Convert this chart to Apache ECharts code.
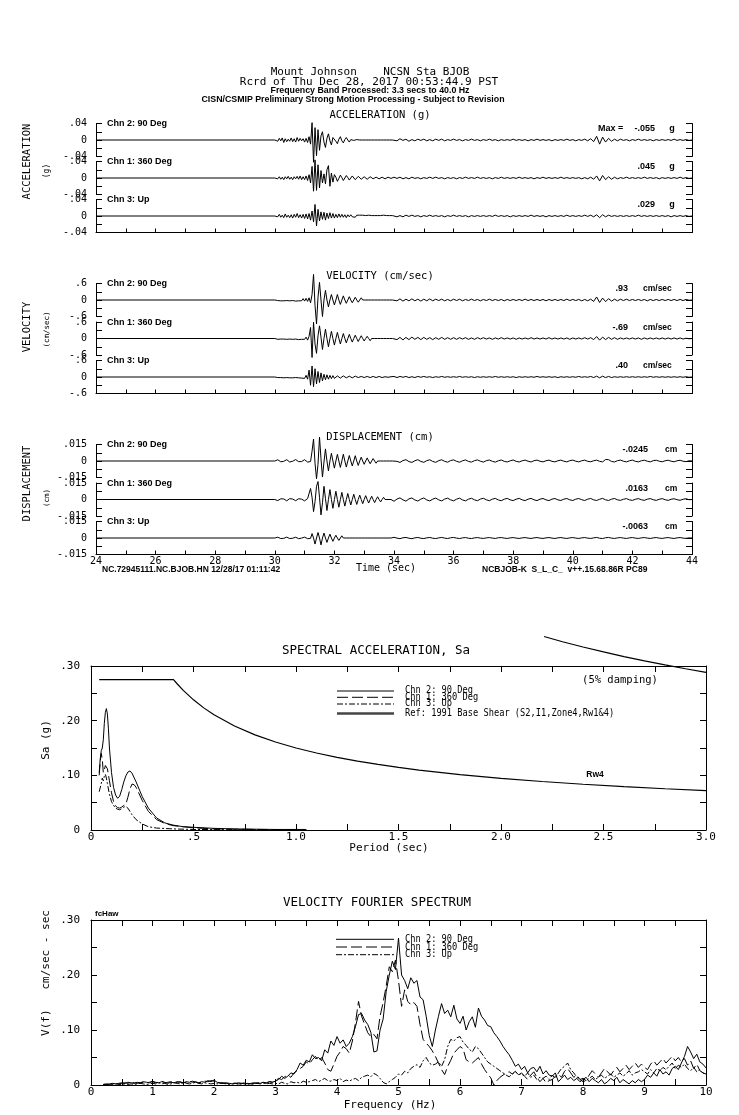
<!DOCTYPE html>
<html><head><meta charset="utf-8">
<script src="https://cdn.jsdelivr.net/npm/echarts@6/dist/echarts.min.js"></script>
<style>html,body{margin:0;padding:0;background:#fff}#c{width:739px;height:1115px}</style>
</head><body><div id="c"></div>
<script>
// ---------------- DATA ----------------
const channelNames = ['Chn 2: 90 Deg', 'Chn 1: 360 Deg', 'Chn 3: Up'];
// time series: head sampled every 0.05 s from 30.00 s, tail every 0.1 s from 34.0 s
const HEAD_T0 = 30, HEAD_DT = 0.05, TAIL_T0 = 34, TAIL_DT = 0.1;
// acceleration in 0.001 g
const accCh2Head = [0,2,-3,4,-2,5,-6,3,-4,2,-3,5,-4,3,-5,6,-3,4,-2,3,-5,4,-6,8,-10,42,-54,30,-38,25,-25,10,20,-5,-18,4,15,-2,-12,6,10,-3,-9,2,8,-2,-7,1,6,0,-5,1,5,-1,-4,1,4,0,-4,0,3,0,-3,0,3,0,-2,0,2,0,-2,0,2,0,-2,0,1,0,-1,0];
const accCh1Head = [0,2,-2,3,-3,2,-4,3,-2,4,-3,2,-4,3,-2,4,-3,5,-4,3,-4,5,-6,8,-12,28,-32,44,-30,32,-24,18,-12,10,-14,20,30,-20,12,-10,8,2,-8,-1,7,1,-6,0,6,1,-5,0,5,1,-4,0,4,0,-3,0,3,0,-3,0,3,1,-2,0,2,0,-2,0,2,0,-2,0,2,0,-1,0];
const accCh3Head = [0,3,-2,4,-3,2,-4,5,-3,2,-4,3,-5,4,-3,6,-4,3,-5,4,-6,5,-7,6,-10,12,-14,28,-24,16,-12,10,-8,9,-10,7,-6,8,-5,6,-5,4,-4,5,-3,4,-3,3,-4,3,-2,3,-2,2,-3,2,-2,2,-1,2,-2,1,-1,2,-1,1,-2,1,-1,1,-1,1,-1,2,-1,1,-1,1,-1,1];
const accCh2Tail = [2,-2,3,-1,2,-3,1,-2,2,-1,2,-2,1,-2,2,-1,2,-2,1,-1,2,-1,1,-2,1,-1,2,-1,1,-2,1,-1,2,-1,1,-2,1,-1,1,-1,2,-1,1,-1,1,-2,1,-1,2,-1,1,-1,1,-2,1,-1,1,-1,2,-1,1,-2,1,-1,2,-2,3,-4,9,-10,7,-5,4,-3,2,-2,2,-1,1,-2,1,-1,2,-1,1,-1,1,-2,1,-1,1,-1,1,-1,2,-1,1,-1,1,-1,0];
const accCh1Tail = [2,-1,2,-2,1,-2,2,-1,1,-2,1,-1,2,-1,2,-1,1,-2,1,-1,1,-2,1,-1,2,-1,1,-1,2,-1,1,-1,1,-2,1,-1,2,-1,1,-1,1,-1,2,-1,1,-1,1,-2,1,-1,2,-1,1,-1,1,-1,2,-1,1,-1,1,-1,1,-2,1,-2,2,-3,5,-7,6,-4,3,-3,2,-2,1,-1,2,-1,1,-1,1,-1,2,-1,1,-1,1,-2,1,-1,1,-1,1,-1,2,-1,1,-1,0];
const accCh3Tail = [2,-2,1,-2,2,-1,2,-1,1,-2,1,-1,2,-1,1,-1,1,-2,1,-1,2,-1,1,-1,1,-2,1,-1,1,-1,1,-1,1,-1,2,-1,1,-1,1,-2,1,-1,1,-1,1,-1,2,-1,1,-1,1,-2,1,-1,1,-1,1,-1,2,-1,1,-1,1,-1,2,-1,2,-2,3,-4,3,-2,2,-1,1,-1,1,-1,1,-1,1,-1,2,-1,1,-1,1,-1,1,-1,1,-1,1,-2,1,-1,1,-1,1,-1,0];
// velocity in 0.01 cm/sec
const velCh2Head = [0,3,-2,4,-3,2,-3,4,-2,3,-3,4,-2,3,-4,2,-3,4,-3,5,-4,6,-5,8,-10,20,93,-20,-87,10,64,0,-60,0,35,0,-25,0,20,0,-18,0,20,0,-16,0,15,0,-12,0,12,0,-10,0,10,0,-8,0,8,0,-7,0,6,0,-6,0,5,0,-5,0,5,0,-4,0,4,0,-4,0,3,0];
const velCh1Head = [0,2,-3,2,-2,3,-2,3,-3,2,-2,3,-3,4,-2,3,-4,3,-3,4,-3,5,-6,8,40,-69,59,-20,-54,10,46,5,-40,0,34,0,-30,0,26,0,-24,0,22,0,-20,0,18,0,-16,0,15,0,-13,0,12,0,-11,0,10,0,-9,0,8,0,-8,0,7,0,-6,0,6,0,-5,0,5,0,-4,0,4,0];
const velCh3Head = [0,2,-2,3,-2,2,-3,2,-2,3,-3,2,-3,3,-2,4,-3,2,-4,3,-5,6,-8,25,-30,40,-35,30,-25,20,-20,15,-14,10,-10,8,-8,6,-6,5,-5,0,4,0,-4,0,4,0,-3,0,3,0,-3,0,3,0,-2,0,2,0,-2,0,2,0,-2,0,2,0,-2,0,2,0,-2,0,1,0,-1,0,1,0];
const velCh2Tail = [4,-3,4,-4,3,-3,4,-3,3,-4,3,-3,4,-3,3,-2,3,-3,2,-3,3,-2,3,-3,2,-2,3,-2,2,-3,2,-2,3,-2,2,-2,2,-3,2,-2,2,-2,2,-2,3,-2,2,-2,2,-2,2,-3,2,-2,2,-2,2,-2,3,-2,2,-2,2,-3,2,-3,3,-5,11,-9,7,-6,5,-4,3,-3,3,-2,3,-2,2,-2,2,-2,2,-3,2,-2,2,-2,2,-2,2,-2,2,-2,2,-2,2,-1,0];
const velCh1Tail = [5,-4,4,-5,4,-4,5,-3,4,-4,4,-3,3,-4,3,-3,4,-3,3,-3,3,-3,3,-2,3,-3,2,-3,3,-2,3,-2,2,-3,2,-2,3,-2,2,-2,2,-3,2,-2,2,-2,3,-2,2,-2,2,-2,3,-2,2,-2,2,-2,2,-3,2,-2,2,-2,3,-2,3,-4,7,-6,5,-4,4,-3,3,-3,2,-2,2,-2,2,-2,2,-3,2,-2,2,-2,2,-2,2,-2,2,-2,2,-2,2,-2,1,-1,0];
const velCh3Tail = [2,-2,2,-1,2,-2,1,-2,2,-1,2,-1,1,-2,1,-1,2,-1,1,-1,1,-1,2,-1,1,-1,1,-2,1,-1,1,-1,1,-1,2,-1,1,-1,1,-1,1,-2,1,-1,1,-1,1,-1,2,-1,1,-1,1,-1,1,-2,1,-1,1,-1,1,-1,2,-1,1,-1,2,-2,3,-3,3,-2,2,-2,1,-1,1,-1,1,-1,1,-1,1,-1,1,-1,2,-1,1,-1,1,-1,1,-1,1,-1,1,-1,1,-1,0];
// displacement in 0.0001 cm
const dispCh2Head = [0,6,11,5,-7,-10,-3,9,12,2,-9,-11,-2,7,13,5,-6,-12,-5,8,12,3,-10,-14,-5,90,200,-20,-161,-30,218,20,-146,-10,110,0,-90,0,70,0,-65,0,60,0,-58,0,62,0,-55,0,50,0,-45,0,48,0,-40,0,35,0,-30,0,28,0,-25,0,22,0,-20,0,18,0,-16,0,15,0,-14,0,13,0];
const dispCh1Head = [0,-5,-10,-4,6,11,5,-7,-12,-3,8,12,4,-6,-11,-5,7,10,3,-8,-12,-4,8,14,100,20,-110,-20,120,163,20,-140,-30,120,10,-100,0,90,0,-80,0,75,0,-70,0,65,0,-60,0,55,0,-50,0,48,0,-45,0,40,0,-38,0,35,0,-32,0,30,0,-28,0,25,0,-22,0,20,0,-18,0,16,0,-15];
const dispCh3Head = [0,4,7,2,-5,-8,-3,5,8,2,-5,-8,-2,6,7,1,-6,-7,-1,5,8,2,-6,-9,-3,40,0,-55,0,50,0,-63,0,45,0,-40,0,35,0,-30,0,25,0,-22,0,20,0,-18,0,15,0,-14,0,12,0,-12,0,10,0,-10,0,9,0,-9,0,8,0,-8,0,7,0,-7,0,6,0,-6,0,6,0,-5];
const dispCh2Tail = [14,-3,-13,4,12,-5,-13,2,12,-4,-12,3,11,-4,-12,3,11,-3,-11,4,10,-3,-11,2,10,-4,-10,3,10,-2,-10,3,9,-3,-10,2,9,-3,-9,2,9,-3,-9,2,8,-2,-9,3,8,-2,-8,2,8,-3,-8,2,8,-2,-8,3,8,-2,-8,2,8,-3,-7,2,8,-3,-8,14,12,-4,-9,3,8,-2,-8,2,8,-3,-8,2,7,-2,-8,3,7,-2,-7,2,7,-2,-7,2,7,-2,-6,2,0];
const dispCh1Tail = [-16,4,15,-3,-15,5,14,-4,-14,3,14,-4,-13,3,13,-3,-13,4,12,-3,-12,3,12,-4,-12,3,11,-3,-11,4,11,-3,-11,3,10,-4,-11,3,10,-3,-10,3,10,-3,-10,3,10,-3,-10,3,9,-3,-10,3,9,-3,-9,3,9,-3,-9,3,9,-2,-9,3,9,-3,-9,2,10,-3,-9,3,9,-3,-8,2,8,-3,-8,2,8,-2,-8,3,8,-2,-8,2,8,-2,-8,2,7,-2,-7,2,7,-2,0];
const dispCh3Tail = [6,-1,-6,2,5,-2,-6,1,5,-2,-5,1,5,-2,-5,1,5,-1,-5,2,5,-1,-5,1,4,-2,-5,1,4,-1,-4,1,4,-1,-4,2,4,-1,-4,1,4,-1,-4,1,4,-1,-4,1,4,-1,-4,1,4,-1,-4,1,4,-1,-4,1,4,-1,-4,1,4,-1,-4,1,5,-2,-5,2,5,-1,-4,1,4,-1,-4,1,4,-1,-4,1,4,-1,-4,1,4,-1,-4,1,4,-1,-4,1,4,-1,-3,1,0];

const accTickLabels = ['.04', '0', '-.04'];
const velTickLabels = ['.6', '0', '-.6'];
const dispTickLabels = ['.015', '0', '-.015'];
const accMax = ['-.055', '.045', '.029'];
const velMax = ['.93', '-.69', '.40'];
const dispMax = ['-.0245', '.0163', '-.0063'];
const timeTickLabels = ['24','26','28','30','32','34','36','38','40','42','44'];

// spectral acceleration (g) vs period (sec)
const saCh2T = [0.04,0.045,0.05,0.055,0.06,0.065,0.07,0.075,0.08,0.085,0.09,0.10,0.11,0.12,0.13,0.14,0.15,0.16,0.17,0.18,0.19,0.20,0.22,0.25,0.28,0.32,0.36,0.40,0.45,0.50,0.60,0.70,0.80,0.90,1.00,1.05];
const saCh2 = [0.105,0.13,0.145,0.15,0.165,0.195,0.215,0.222,0.212,0.185,0.15,0.105,0.078,0.064,0.058,0.062,0.074,0.088,0.099,0.106,0.108,0.104,0.088,0.061,0.04,0.022,0.013,0.009,0.006,0.005,0.003,0.002,0.0015,0.001,0.001,0.001];
const saCh1T = [0.04,0.045,0.05,0.055,0.06,0.065,0.07,0.075,0.08,0.09,0.10,0.11,0.12,0.13,0.14,0.15,0.16,0.17,0.18,0.19,0.20,0.21,0.22,0.25,0.28,0.32,0.36,0.40,0.50,0.60,0.80,1.00,1.05];
const saCh1 = [0.10,0.125,0.14,0.13,0.105,0.11,0.118,0.12,0.112,0.09,0.068,0.052,0.044,0.041,0.04,0.042,0.045,0.047,0.06,0.075,0.084,0.083,0.078,0.054,0.034,0.019,0.012,0.008,0.004,0.002,0.001,0.0006,0.0005];
const saCh3T = [0.04,0.045,0.05,0.055,0.06,0.065,0.07,0.075,0.08,0.09,0.10,0.11,0.12,0.13,0.14,0.15,0.16,0.17,0.18,0.19,0.20,0.22,0.25,0.28,0.32,0.40,0.50,0.70,1.00];
const saCh3 = [0.07,0.072,0.085,0.095,0.09,0.098,0.102,0.095,0.085,0.065,0.052,0.045,0.04,0.038,0.037,0.039,0.042,0.043,0.04,0.034,0.028,0.019,0.011,0.006,0.0035,0.002,0.001,0.0005,0.0003];
const refT = [0.04,0.4025,0.42,0.45,0.50,0.55,0.60,0.70,0.80,0.90,1.00,1.10,1.20,1.30,1.40,1.50,1.60,1.80,2.00,2.20,2.40,2.60,2.80,3.00];
const refRw4 = [0.275,0.275,0.2675,0.2554,0.2381,0.2234,0.2108,0.1903,0.1741,0.1609,0.15,0.1408,0.1328,0.1259,0.1199,0.1145,0.1096,0.1014,0.0945,0.0887,0.0837,0.0793,0.0755,0.0721];
const rw1T = [2.21,2.3,2.4,2.5,2.6,2.7,2.8,2.9,3.0];
const rw1Sa = [0.354,0.3443,0.3347,0.3257,0.3173,0.3094,0.302,0.295,0.2884];
const saXLabels = {0:'0', 0.5:'.5', 1:'1.0', 1.5:'1.5', 2:'2.0', 2.5:'2.5', 3:'3.0'};
const yLabels30 = {0:'0', 10:'.10', 20:'.20', 30:'.30'};

// velocity Fourier spectrum, 0.001 cm/sec-sec, every 0.05 Hz from 0 Hz
const FREQ_DF = 0.05;
const fsCh2 = [null,null,null,null,1,1,2,3,2,3,4,3,5,4,3,5,4,6,5,4,
 7,5,4,6,5,3,5,4,6,5,4,6,5,7,5,4,6,5,8,6,
 9,5,4,3,4,3,2,3,4,3,2,3,2,3,4,3,5,4,6,5,
 7,10,16,12,16,22,20,28,40,36,45,42,55,48,50,44,64,58,80,72,
 88,76,82,70,76,88,106,128,130,118,110,96,60,62,100,120,170,200,225,210,
 267,200,190,175,195,185,190,160,155,125,90,70,100,125,148,130,136,124,145,120,
 112,125,100,115,124,105,140,125,118,108,106,95,88,80,70,62,55,45,34,38,
 28,34,22,30,32,24,34,20,26,18,16,22,6,12,18,10,14,8,12,6,
 10,14,6,12,8,4,10,2,6,12,8,14,4,10,6,2,8,4,10,6,
 10,18,14,22,16,28,20,24,18,30,34,28,40,52,70,60,48,56,42,38,
 31];
const fsCh1 = [null,null,null,null,1,2,1,2,3,2,3,4,3,5,4,3,4,5,4,5,
 6,4,5,7,4,5,6,3,5,6,4,5,7,5,6,4,5,7,6,8,
 7,5,3,4,3,2,4,3,2,3,4,2,3,4,3,5,4,3,6,5,
 8,12,10,15,18,14,22,26,30,34,42,38,46,52,44,50,40,28,25,38,
 52,60,70,66,58,80,113,152,125,110,95,88,92,84,125,150,180,215,206,227,
 190,143,173,152,146,150,143,110,83,76,70,62,52,40,28,19,34,45,58,64,
 70,66,46,42,40,45,50,38,28,20,13,0,8,14,18,22,24,20,25,18,
 22,16,10,18,24,14,6,12,4,8,10,16,20,14,25,30,22,14,18,10,
 12,8,18,26,20,14,22,30,24,18,26,32,24,30,36,28,34,40,32,38,
 32,28,38,44,36,42,48,40,46,52,44,50,42,48,36,44,30,38,26,22,
 19];
const fsCh3 = [null,null,null,null,1,1,0,1,2,1,1,2,1,2,1,2,3,2,1,2,
 3,2,4,2,3,1,2,4,3,2,4,3,2,3,5,3,2,4,3,2,
 3,2,4,3,2,1,2,3,1,2,3,2,1,2,3,2,4,2,3,2,
 3,2,5,3,2,6,4,5,3,7,5,6,8,10,6,9,12,8,7,10,
 8,12,6,9,7,10,12,8,14,16,18,15,21,18,12,5,2,6,10,14,
 20,18,25,22,30,34,37,32,44,50,40,36,38,42,34,46,70,83,80,86,
 88,78,72,65,60,70,66,58,50,42,38,34,30,26,22,18,15,20,24,19,
 20,16,22,14,18,10,14,12,16,10,18,12,22,30,34,40,28,22,14,10,
 6,8,12,16,10,14,18,12,16,20,14,18,22,16,20,26,18,22,24,28,
 24,20,28,22,30,26,32,28,34,40,30,36,32,38,30,26,32,24,28,22,
 20];

// ---------------- BUILD ----------------
const MONO = 'DejaVu Sans Mono';
const SANS = 'Liberation Sans';
const BLACK = '#000';

function trace(head, tail, scale) {
  const pts = [[24, 0]];
  head.forEach((v, i) => pts.push([+(HEAD_T0 + i * HEAD_DT).toFixed(2), v * scale]));
  tail.forEach((v, i) => pts.push([+(TAIL_T0 + i * TAIL_DT).toFixed(2), v * scale]));
  return pts;
}
function pairs(xs, ys) { return xs.map((x, i) => [x, ys[i]]); }
function spectrum(arr) { return arr.map((v, i) => [+(i * FREQ_DF).toFixed(2), v == null ? null : v * 0.001]); }

const grid = [], xAxis = [], yAxis = [], series = [];
const lineAx = { show: true, onZero: false, lineStyle: { color: BLACK, width: 1 } };

const panels = [
  { tops: [123.5, 161.5, 199.5], range: 0.04, interval: 0.02, labels: accTickLabels,
    heads: [accCh2Head, accCh1Head, accCh3Head], tails: [accCh2Tail, accCh1Tail, accCh3Tail], scale: 0.001, xLabels: false },
  { tops: [283.5, 322, 360.5], range: 0.6, interval: 0.3, labels: velTickLabels,
    heads: [velCh2Head, velCh1Head, velCh3Head], tails: [velCh2Tail, velCh1Tail, velCh3Tail], scale: 0.01, xLabels: false },
  { tops: [444.5, 483, 521.5], range: 0.015, interval: 0.0075, labels: dispTickLabels,
    heads: [dispCh2Head, dispCh1Head, dispCh3Head], tails: [dispCh2Tail, dispCh1Tail, dispCh3Tail], scale: 0.0001, xLabels: true }
];

panels.forEach(p => {
  p.tops.forEach((top, c) => {
    const g = grid.length;
    grid.push({ left: 96, right: 47, top: top, height: 33 });
    const isBottom = c === 2;
    xAxis.push({
      gridIndex: g, type: 'value', min: 24, max: 44, interval: 1, show: isBottom,
      position: 'bottom',
      axisLine: lineAx,
      axisTick: { show: true, inside: true, length: 4, lineStyle: { color: BLACK } },
      splitLine: { show: false },
      axisLabel: { show: p.xLabels, margin: 2, fontFamily: MONO, fontSize: 10, color: BLACK,
        formatter: v => { const s = String(Math.round(v)); return timeTickLabels.includes(s) ? s : ''; } }
    });
    const r = p.range;
    const yi = yAxis.length;
    yAxis.push({
      gridIndex: g, type: 'value', min: -r, max: r, interval: p.interval, position: 'left',
      axisLine: lineAx,
      axisTick: { show: true, inside: true, length: 6, lineStyle: { color: BLACK } },
      splitLine: { show: false },
      axisLabel: { show: true, margin: 9, fontFamily: MONO, fontSize: 10, color: BLACK,
        formatter: v => Math.abs(v - r) < r * 1e-6 ? p.labels[0] : (Math.abs(v) < r * 1e-6 ? p.labels[1] : (Math.abs(v + r) < r * 1e-6 ? p.labels[2] : '')) }
    });
    yAxis.push({
      gridIndex: g, type: 'value', min: -r, max: r, interval: p.interval, position: 'right',
      axisLine: lineAx,
      axisTick: { show: true, inside: true, length: 6, lineStyle: { color: BLACK } },
      splitLine: { show: false }, axisLabel: { show: false }
    });
    series.push({
      type: 'line', xAxisIndex: g, yAxisIndex: yi, data: trace(p.heads[c], p.tails[c], p.scale),
      symbol: 'none', clip: false, silent: true, animation: false,
      lineStyle: { color: BLACK, width: 1 }
    });
  });
});

// spectral panels
function specPanel(top, height, xmax, xint, xlabel) {
  const g = grid.length;
  grid.push({ left: 91, right: 33, top: top, height: height });
  const xb = xAxis.length;
  xAxis.push({ gridIndex: g, type: 'value', min: 0, max: xmax, interval: xint, position: 'bottom',
    axisLine: lineAx, splitLine: { show: false },
    axisTick: { show: true, inside: true, length: 6, lineStyle: { color: BLACK } },
    axisLabel: { margin: 2, fontFamily: MONO, fontSize: 11, color: BLACK, formatter: xlabel } });
  xAxis.push({ gridIndex: g, type: 'value', min: 0, max: xmax, interval: xint, position: 'top',
    axisLine: lineAx, splitLine: { show: false },
    axisTick: { show: true, inside: true, length: 6, lineStyle: { color: BLACK } },
    axisLabel: { show: false } });
  const yl = yAxis.length;
  yAxis.push({ gridIndex: g, type: 'value', min: 0, max: 0.3, interval: 0.05, position: 'left',
    axisLine: lineAx, splitLine: { show: false },
    axisTick: { show: true, inside: true, length: 6, lineStyle: { color: BLACK } },
    axisLabel: { margin: 11, fontFamily: MONO, fontSize: 11, color: BLACK,
      formatter: v => yLabels30[Math.round(v * 100)] || '' } });
  yAxis.push({ gridIndex: g, type: 'value', min: 0, max: 0.3, interval: 0.05, position: 'right',
    axisLine: lineAx, splitLine: { show: false },
    axisTick: { show: true, inside: true, length: 6, lineStyle: { color: BLACK } },
    axisLabel: { show: false } });
  return { xb, yl };
}
const sa = specPanel(666, 164, 3, 0.25, v => saXLabels[Math.round(v * 4) / 4] || '');
const fs = specPanel(920, 165, 10, 0.5, v => (Math.abs(v - Math.round(v)) < 1e-6 ? String(Math.round(v)) : ''));

const DASH1 = [11, 4], DASH3 = [6, 2, 2, 2];
function spec(ax, data, type, width, extra) {
  return Object.assign({ type: 'line', xAxisIndex: ax.xb, yAxisIndex: ax.yl, data: data, symbol: 'none',
    silent: true, animation: false, connectNulls: false,
    lineStyle: { color: BLACK, width: width, type: type } }, extra || {});
}
series.push(spec(sa, pairs(refT, refRw4), 'solid', 1.2));
series.push(spec(sa, pairs(rw1T, rw1Sa), 'solid', 1.2, { clip: false }));
series.push(spec(sa, pairs(saCh2T, saCh2), 'solid', 1));
series.push(spec(sa, pairs(saCh1T, saCh1), DASH1, 1));
series.push(spec(sa, pairs(saCh3T, saCh3), DASH3, 1));
series.push(spec(fs, spectrum(fsCh3), DASH3, 1));
series.push(spec(fs, spectrum(fsCh1), DASH1, 1));
series.push(spec(fs, spectrum(fsCh2), 'solid', 1));

// ---------------- TEXT ----------------
function T(text, x, y, size, o) {
  o = o || {};
  const al = o.align || 'center';
  return { type: 'text', x: x, y: y, rotation: o.rot || 0, scaleX: o.sx || 1, scaleY: o.sy || 1, silent: true, z: 10,
    style: { text: text, fontSize: size, fontFamily: o.font || MONO, fontWeight: o.bold ? 'bold' : 'normal', fill: BLACK,
      align: al, textAlign: al, verticalAlign: 'middle', textVerticalAlign: 'middle' } };
}
function L(x1, y1, x2, y2, dash, w, color) {
  return { type: 'line', silent: true, z: 10, shape: { x1, y1, x2, y2 },
    style: { stroke: color || BLACK, lineWidth: w || 1, lineDash: dash || null } };
}
const R = Math.PI / 2;
const B = { font: SANS, bold: true };
const els = [
  T('Mount Johnson    NCSN Sta BJOB', 370, 72, 11),
  T('Rcrd of Thu Dec 28, 2017 00:53:44.9 PST', 369, 82, 11),
  T('Frequency Band Processed: 3.3 secs to 40.0 Hz', 370, 91, 8.8, B),
  T('CISN/CSMIP Preliminary Strong Motion Processing - Subject to Revision', 353, 100, 8.8, B),
  T('ACCELERATION (g)', 380, 115.5, 10.5),
  T('VELOCITY (cm/sec)', 380, 276, 10.5),
  T('DISPLACEMENT (cm)', 380, 437, 10.5),
  T('ACCELERATION', 27, 161.5, 10.5, { rot: R }),
  T('(g)', 47, 171, 8, { rot: R }),
  T('VELOCITY', 27, 327, 10.5, { rot: R }),
  T('(cm/sec)', 47, 329.5, 7.5, { rot: R }),
  T('DISPLACEMENT', 27, 483.5, 10.5, { rot: R }),
  T('(cm)', 47, 498, 7.5, { rot: R }),
  T('NC.72945111.NC.BJOB.HN 12/28/17 01:11:42', 102, 570, 8.5, Object.assign({ align: 'left' }, B)),
  T('Time (sec)', 386, 568, 10),
  T('NCBJOB-K  S_L_C_  v++.15.68.86R PC89', 482, 570, 8.5, Object.assign({ align: 'left' }, B)),
  // spectral acceleration
  T('SPECTRAL ACCELERATION, Sa', 376, 651, 12.5),
  T('(5% damping)', 620, 680, 10.5),
  T('Rw4', 595, 775, 8.5, B),
  T('Sa (g)', 46, 740, 11, { rot: R }),
  T('Period (sec)', 389, 848, 11),
  // fourier
  T('VELOCITY FOURIER SPECTRUM', 377, 903, 12.5),
  T('fcHaw', 95, 914, 8, Object.assign({ align: 'left' }, B)),
  T('V(f)   cm/sec - sec', 46, 973, 11, { rot: R }),
  T('Frequency (Hz)', 390, 1105, 11)
];
// channel labels and max values
const maxLists = [accMax, velMax, dispMax];
const unitNames = ['g', 'cm/sec', 'cm'];
panels.forEach((p, pi) => {
  p.tops.forEach((top, c) => {
    els.push(T(channelNames[c], 107, top + 0.5, 9, Object.assign({ align: 'left' }, B)));
    const y = top + 5.5;
    if (pi === 0) {
      if (c === 0) els.push(T('Max =', 598, y, 9, Object.assign({ align: 'left' }, B)));
      els.push(T(maxLists[pi][c], 655, y, 9, Object.assign({ align: 'right' }, B)));
      els.push(T(unitNames[pi], 672, y, 9, B));
    } else if (pi === 1) {
      els.push(T(maxLists[pi][c], 628, y, 9, Object.assign({ align: 'right' }, B)));
      els.push(T(unitNames[pi], 643, y, 8.5, Object.assign({ align: 'left' }, B)));
    } else {
      els.push(T(maxLists[pi][c], 648, y, 9, Object.assign({ align: 'right' }, B)));
      els.push(T(unitNames[pi], 665, y, 8.5, Object.assign({ align: 'left' }, B)));
    }
  });
});
// legends
const legSA = ['Chn 2: 90 Deg', 'Chn 1: 360 Deg', 'Chn 3: Up', 'Ref: 1991 Base Shear (S2,I1,Zone4,Rw1&4)'];
const legSAy = [691, 697.3, 704, 713.5];
els.push(L(337, legSAy[0], 394, legSAy[0]));
els.push(L(337, legSAy[1], 394, legSAy[1], DASH1));
els.push(L(337, legSAy[2], 394, legSAy[2], DASH3));
els.push(L(337, legSAy[3], 394, legSAy[3], null, 2.5, '#444'));
legSA.forEach((s, i) => els.push(T(s, 405, legSAy[i] - 0.5, 8.7, { align: 'left', sy: 1.2 })));
const legFS = ['Chn 2: 90 Deg', 'Chn 1: 360 Deg', 'Chn 3: Up'];
const legFSy = [939.3, 947, 954.7];
els.push(L(336, legFSy[0], 394, legFSy[0]));
els.push(L(336, legFSy[1], 394, legFSy[1], DASH1));
els.push(L(336, legFSy[2], 394, legFSy[2], DASH3));
legFS.forEach((s, i) => els.push(T(s, 405, legFSy[i], 8.7, { align: 'left', sy: 1.2 })));

const chart = echarts.init(document.getElementById('c'), null, { renderer: 'canvas' });
chart.setOption({
  animation: false,
  backgroundColor: '#fff',
  grid: grid, xAxis: xAxis, yAxis: yAxis, series: series,
  graphic: { elements: els }
});
</script></body></html>
